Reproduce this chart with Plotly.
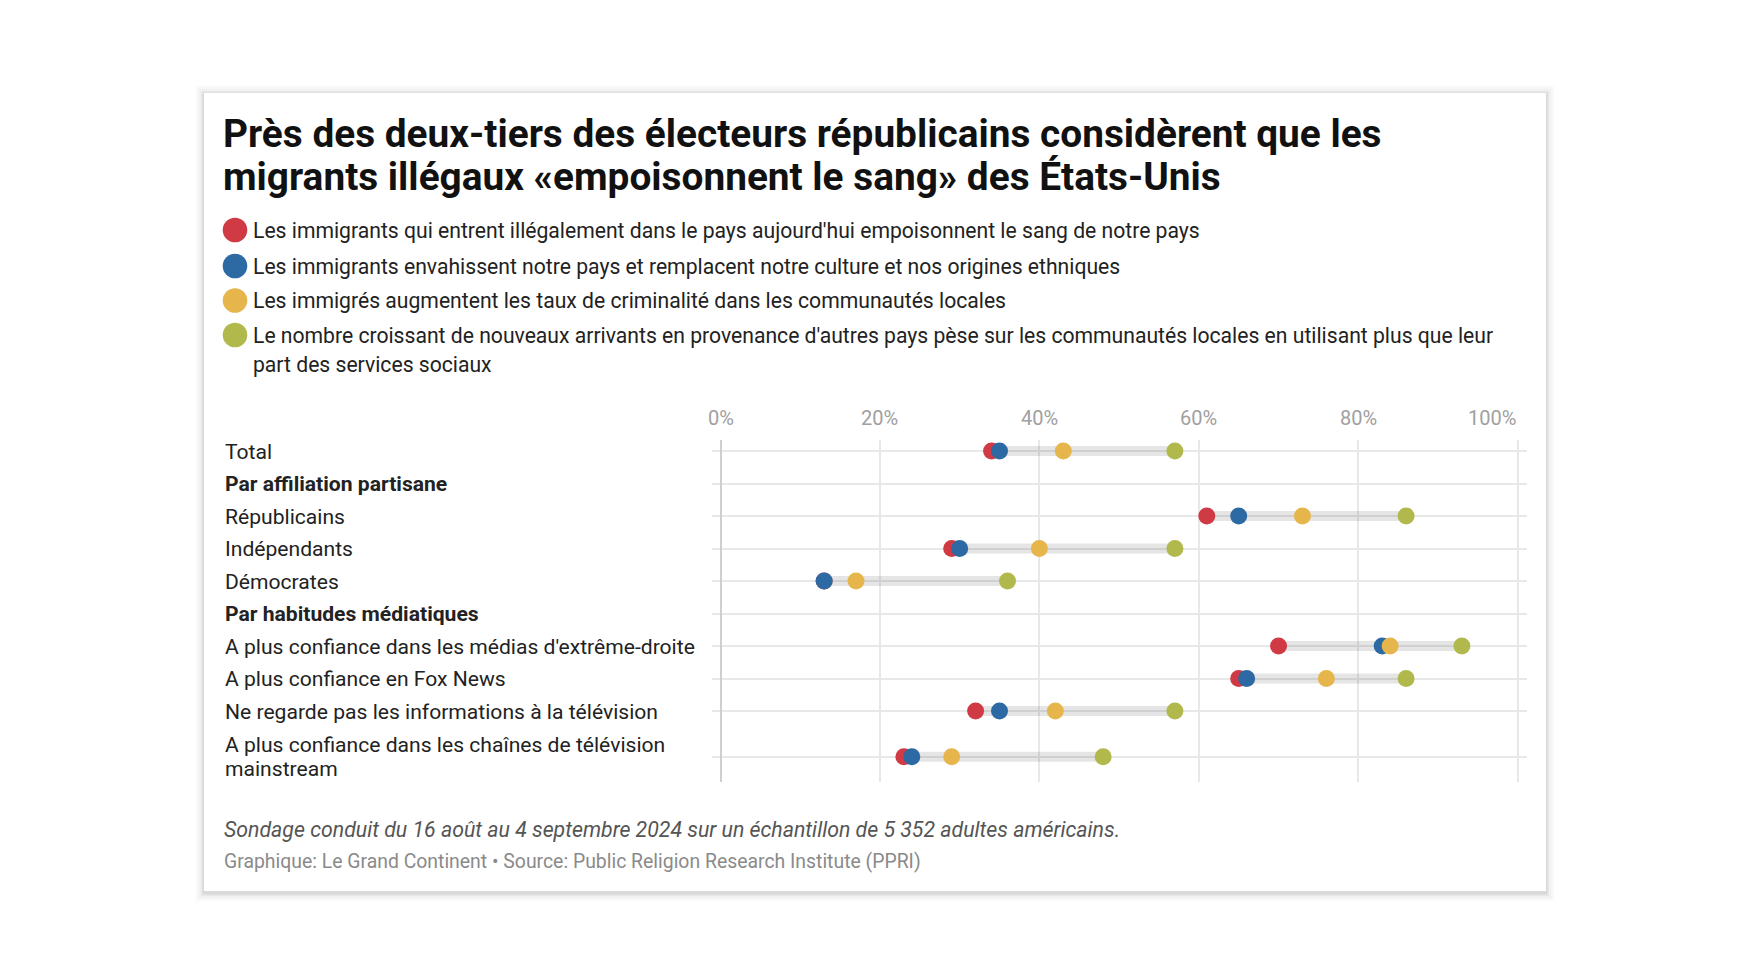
import plotly.graph_objects as go

# ---- données (en %) ----
categories = [
    "Total",
    "Par affiliation partisane",
    "Républicains",
    "Indépendants",
    "Démocrates",
    "Par habitudes médiatiques",
    "A plus confiance dans les médias d'extrême-droite",
    "A plus confiance en Fox News",
    "Ne regarde pas les informations à la télévision",
    "A plus confiance dans les chaînes de télévision<br>mainstream",
]
headers = ["Par affiliation partisane", "Par habitudes médiatiques"]

series_names = [
    "Les immigrants qui entrent illégalement dans le pays aujourd'hui empoisonnent le sang de notre pays",
    "Les immigrants envahissent notre pays et remplacent notre culture et nos origines ethniques",
    "Les immigrés augmentent les taux de criminalité dans les communautés locales",
    "Le nombre croissant de nouveaux arrivants en provenance d'autres pays pèse sur les communautés locales en utilisant plus que leur<br>part des services sociaux",
]
series_colors = ["#d03a45", "#2d6aa3", "#e6b64d", "#b2b94c"]

empoisonnent = [34, None, 61, 29, 13, None, 70, 65, 32, 23]
envahissent = [35, None, 65, 30, 13, None, 83, 66, 35, 24]
criminalite = [43, None, 73, 40, 17, None, 84, 76, 42, 29]
services_sociaux = [57, None, 86, 57, 36, None, 93, 86, 57, 48]
series_values = [empoisonnent, envahissent, criminalite, services_sociaux]

x_ticks = [0, 20, 40, 60, 80, 100]
x_ticktext = [f"{v}%" for v in x_ticks]

title_lines = [
    "Près des deux-tiers des électeurs républicains considèrent que les",
    "migrants illégaux «empoisonnent le sang» des États-Unis",
]
note_text = "Sondage conduit du 16 août au 4 septembre 2024 sur un échantillon de 5 352 adultes américains."
source_text = "Graphique: Le Grand Continent • Source: Public Religion Research Institute (PPRI)"

# ---- mise en page (pixels de la fenêtre ; la page a une marge de 8 px) ----
OFF = 8
W, H = 1752 - 2 * OFF, 980 - 2 * OFF
L, R, T, B = 712, 1527, 440, 782
FONT = "Roboto"


def px2x(px):
    return (px - L) / (R - L)


def px2y(py):
    return (B - py) / (B - T)


def add_text(annots, text, x, y, size, color, yref="paper", spacing=None, fmt="{}"):
    """texte multi-lignes, une annotation par ligne pour tenir l'interligne"""
    lines = text.split("<br>")
    n = len(lines)
    for k, line in enumerate(lines):
        shift = 0 if spacing is None else -(k - (n - 1) / 2) * spacing
        annots.append(dict(
            text=fmt.format(line), xref="paper", yref=yref, x=x, y=y,
            xanchor="left", yanchor="middle", align="left", showarrow=False,
            yshift=shift, font=dict(family=FONT, size=size, color=color),
        ))


# position des lignes : une ligne de plus pour les libellés sur deux lignes
positions = []
pos = 0.0
for i, cat in enumerate(categories):
    if i > 0:
        pos += 1 + (0.41 if "<br>" in cat else 0)
    positions.append(pos)

fig = go.Figure()

# barres grises min -> max
bx, by = [], []
for i, p in enumerate(positions):
    vals = [s[i] for s in series_values if s[i] is not None]
    if vals:
        bx += [min(vals), max(vals), None]
        by += [p, p, None]
fig.add_trace(go.Scatter(
    x=bx, y=by, mode="lines",
    line=dict(color="rgba(0,0,0,0.10)", width=10),
    hoverinfo="skip", showlegend=False,
))

for name, vals, color in zip(series_names, series_values, series_colors):
    fig.add_trace(go.Scatter(
        x=vals, y=positions, mode="markers",
        name=name.replace("<br>", " "),
        marker=dict(color=color, size=17, line=dict(width=0)),
        showlegend=False,
    ))

shapes = []
# carte avec ombre
cx0, cy0, cx1, cy1 = 204, 93, 1546, 891
for k, a in [(9, 0.012), (7, 0.018), (5, 0.025), (3, 0.04), (1.5, 0.06)]:
    shapes.append(dict(
        type="rect", xref="paper", yref="paper", layer="below",
        x0=px2x(cx0 - k), x1=px2x(cx1 + k),
        y0=px2y(cy1 + k + 2), y1=px2y(cy0 - k + 1),
        fillcolor=f"rgba(0,0,0,{a})", line=dict(width=0),
    ))
shapes.append(dict(
    type="rect", xref="paper", yref="paper", layer="below",
    x0=px2x(cx0), x1=px2x(cx1), y0=px2y(cy1), y1=px2y(cy0),
    fillcolor="white", line=dict(width=0),
))

annotations = []
for line, py in zip(title_lines, [133, 176.5]):
    add_text(annotations, line, px2x(221), px2y(py), 38.8, "#111111", fmt="<b>{}</b>")

# légende
legend_rows = [230, 266, 300.5, 335]
for name, color, py in zip(series_names, series_colors, legend_rows):
    shapes.append(dict(
        type="circle", xref="paper", yref="paper",
        x0=px2x(235 - 12.3), x1=px2x(235 + 12.3),
        y0=px2y(py + 12.3), y1=px2y(py - 12.3),
        fillcolor=color, line=dict(width=0),
    ))
    n_lines = name.count("<br>") + 1
    add_text(annotations, name, px2x(251), px2y(py + (n_lines - 1) * 14.5),
             21.15, "#222222", spacing=29)

# libellés des lignes
for cat, p in zip(categories, positions):
    fmt = "<b>{}</b>" if cat in headers else "{}"
    add_text(annotations, cat, px2x(223), p, 21.1, "#222222", yref="y",
             spacing=24, fmt=fmt)

# étiquettes de l'axe x (la dernière est calée à droite de sa ligne)
for i, (v, t) in enumerate(zip(x_ticks, x_ticktext)):
    annotations.append(dict(
        text=t, xref="x", yref="paper", x=v, y=px2y(418),
        xanchor="right" if i == len(x_ticks) - 1 else "center",
        yanchor="middle", showarrow=False,
        font=dict(family=FONT, size=20, color="#a0a0a0"),
    ))

add_text(annotations, note_text, px2x(222), px2y(829), 21.3, "#555555", fmt="<i>{}</i>")
add_text(annotations, source_text, px2x(222), px2y(861), 19.4, "#8a8a8a")

px_per_pct = 7.972
xmin = -(720.5 - L) / px_per_pct
xmax = xmin + (R - L) / px_per_pct
px_per_row = 32.5
ymin = positions[0] - (451 - T) / px_per_row
ymax = ymin + (B - T) / px_per_row

fig.update_layout(
    width=W, height=H,
    margin=dict(l=L - OFF, r=(W + OFF) - R, t=T - OFF, b=(H + OFF) - B, pad=0),
    paper_bgcolor="white", plot_bgcolor="rgba(0,0,0,0)",
    font=dict(family=FONT),
    shapes=shapes, annotations=annotations,
    xaxis=dict(
        range=[xmin, xmax], tickvals=x_ticks, showticklabels=False,
        showgrid=True, gridcolor="#e8e8e8", gridwidth=1.5,
        zeroline=True, zerolinecolor="#cfcfcf", zerolinewidth=1.5,
        showline=False, ticks="",
        fixedrange=True,
    ),
    yaxis=dict(
        range=[ymax, ymin], tickvals=positions, showticklabels=False,
        showgrid=True, gridcolor="#e8e8e8", gridwidth=1.5,
        zeroline=False, showline=False, ticks="",
        fixedrange=True,
    ),
    showlegend=False,
)

fig.write_html("out.html")
